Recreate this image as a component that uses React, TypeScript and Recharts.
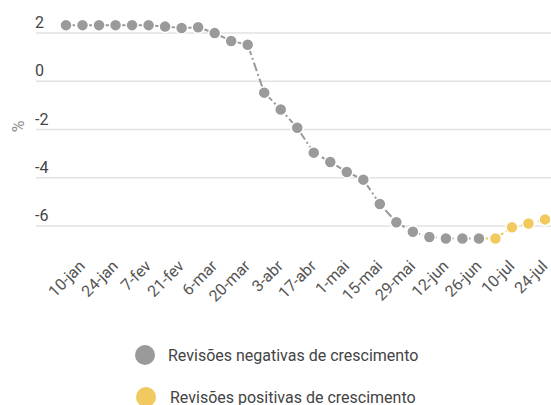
import React from 'react';
import { LineChart, Line, XAxis, YAxis, CartesianGrid, Legend } from 'recharts';

const categories = [
  '10-jan', '17-jan', '24-jan', '31-jan', '7-fev', '14-fev', '21-fev', '28-fev',
  '6-mar', '13-mar', '20-mar', '27-mar', '3-abr', '10-abr', '17-abr', '24-abr',
  '1-mai', '8-mai', '15-mai', '22-mai', '29-mai', '5-jun', '12-jun', '19-jun',
  '26-jun', '3-jul', '10-jul', '17-jul', '24-jul', '31-jul',
];

const negativeRevisions: (number | null)[] = [
  2.33, 2.33, 2.33, 2.33, 2.33, 2.33, 2.27, 2.21, 2.24, 2.0,
  1.67, 1.52, -0.47, -1.17, -1.93, -2.96, -3.35, -3.76, -4.08, -5.09,
  -5.85, -6.24, -6.46, -6.52, -6.52, -6.52, null, null, null, null,
];

const positiveRevisions: (number | null)[] = [
  null, null, null, null, null, null, null, null, null, null,
  null, null, null, null, null, null, null, null, null, null,
  null, null, null, null, null, -6.52, -6.52, -6.06, -5.9, -5.73,
];

const yTicks = [-6, -4, -2, 0, 2];

const seriesNames = {
  neg: 'Revisões negativas de crescimento',
  pos: 'Revisões positivas de crescimento',
};

const GREY = '#9a9a9a';
const YELLOW = '#f1c95f';
const FONT = 'Roboto, "Noto Sans", sans-serif';
const FS = 16;

const data = categories.map((c, i) => ({
  date: c,
  neg: negativeRevisions[i],
  pos: positiveRevisions[i],
}));

const XTick = (props: any) => {
  const { x, y, payload } = props;
  return (
    <g transform={`translate(${x + 20},${y + 9}) rotate(-45)`}>
      <text x={0} y={0} textAnchor="end" fill="#555" fontSize={FS} fontFamily={FONT}>
        {payload.value}
      </text>
    </g>
  );
};

const YTick = (props: any) => {
  const { x, y, payload } = props;
  return (
    <text x={x + 7} y={y - 5} textAnchor="start" fill="#444" fontSize={FS} fontFamily={FONT}>
      {payload.value}
    </text>
  );
};

const YLabel = (props: any) => {
  const { viewBox } = props;
  const cx = viewBox.x + 18;
  const cy = viewBox.y + viewBox.height / 2 - 3;
  return (
    <text
      x={cx}
      y={cy}
      transform={`rotate(-90 ${cx} ${cy})`}
      textAnchor="middle"
      dominantBaseline="central"
      fill="#8a8a8a"
      fontSize={FS}
      fontFamily={FONT}
    >
      %
    </text>
  );
};

const LegendContent = () => {
  const rows = [
    { name: seriesNames.neg, color: GREY, cx: 145, tx: 168, cy: 40 },
    { name: seriesNames.pos, color: YELLOW, cx: 146, tx: 170, cy: 82 },
  ];
  return (
    <svg width={551} height={90}>
      {rows.map((r) => (
        <g key={r.name}>
          <circle cx={r.cx} cy={r.cy} r={10} fill={r.color} />
          <text x={r.tx} y={r.cy} dominantBaseline="central" fill="#444" fontSize={FS} fontFamily={FONT}>
            {r.name}
          </text>
        </g>
      ))}
    </svg>
  );
};

const makeDot = (color: string, skipIndex: number | null) => (props: any) => {
  const { cx, cy, index, value } = props;
  if (value == null || cx == null || cy == null || index === skipIndex) return <g key={`d-${index}`} />;
  return <circle key={`d-${index}`} cx={cx} cy={cy} r={6} fill={color} stroke="#fff" strokeWidth={1.5} />;
};

export default function App() {
  return (
    <div style={{ position: 'absolute', left: 0, top: 0, background: '#fff' }}>
      <LineChart
        width={551}
        height={405}
        data={data}
        margin={{ top: 9, right: 0, left: 0, bottom: 0 }}
        style={{ fontFamily: FONT }}
      >
        <CartesianGrid
          horizontal
          vertical={false}
          stroke="#e2e2e2"
          strokeWidth={1.5}
          syncWithTicks
        />
        <XAxis
          dataKey="date"
          interval={1}
          axisLine={false}
          tickLine={false}
          height={65}
          padding={{ left: 30, right: 6 }}
          tick={<XTick />}
        />
        <YAxis
          domain={[-7, 3]}
          ticks={yTicks}
          width={36}
          axisLine={false}
          tickLine={false}
          tick={<YTick />}
          label={<YLabel />}
        />
        <Legend
          verticalAlign="bottom"
          align="left"
          height={90}
          wrapperStyle={{ left: 0, top: 315, width: 551, height: 90 }}
          content={<LegendContent />}
        />
        <Line
          type="linear"
          dataKey="pos"
          name={seriesNames.pos}
          stroke={YELLOW}
          strokeWidth={2}
          strokeDasharray="9 3 2 3"
          dot={makeDot(YELLOW, 25)}
          activeDot={false}
          isAnimationActive={false}
          connectNulls={false}
        />
        <Line
          type="linear"
          dataKey="neg"
          name={seriesNames.neg}
          stroke={GREY}
          strokeWidth={2}
          strokeDasharray="9 3 2 3"
          dot={makeDot(GREY, null)}
          activeDot={false}
          isAnimationActive={false}
          connectNulls={false}
        />
      </LineChart>
    </div>
  );
}
